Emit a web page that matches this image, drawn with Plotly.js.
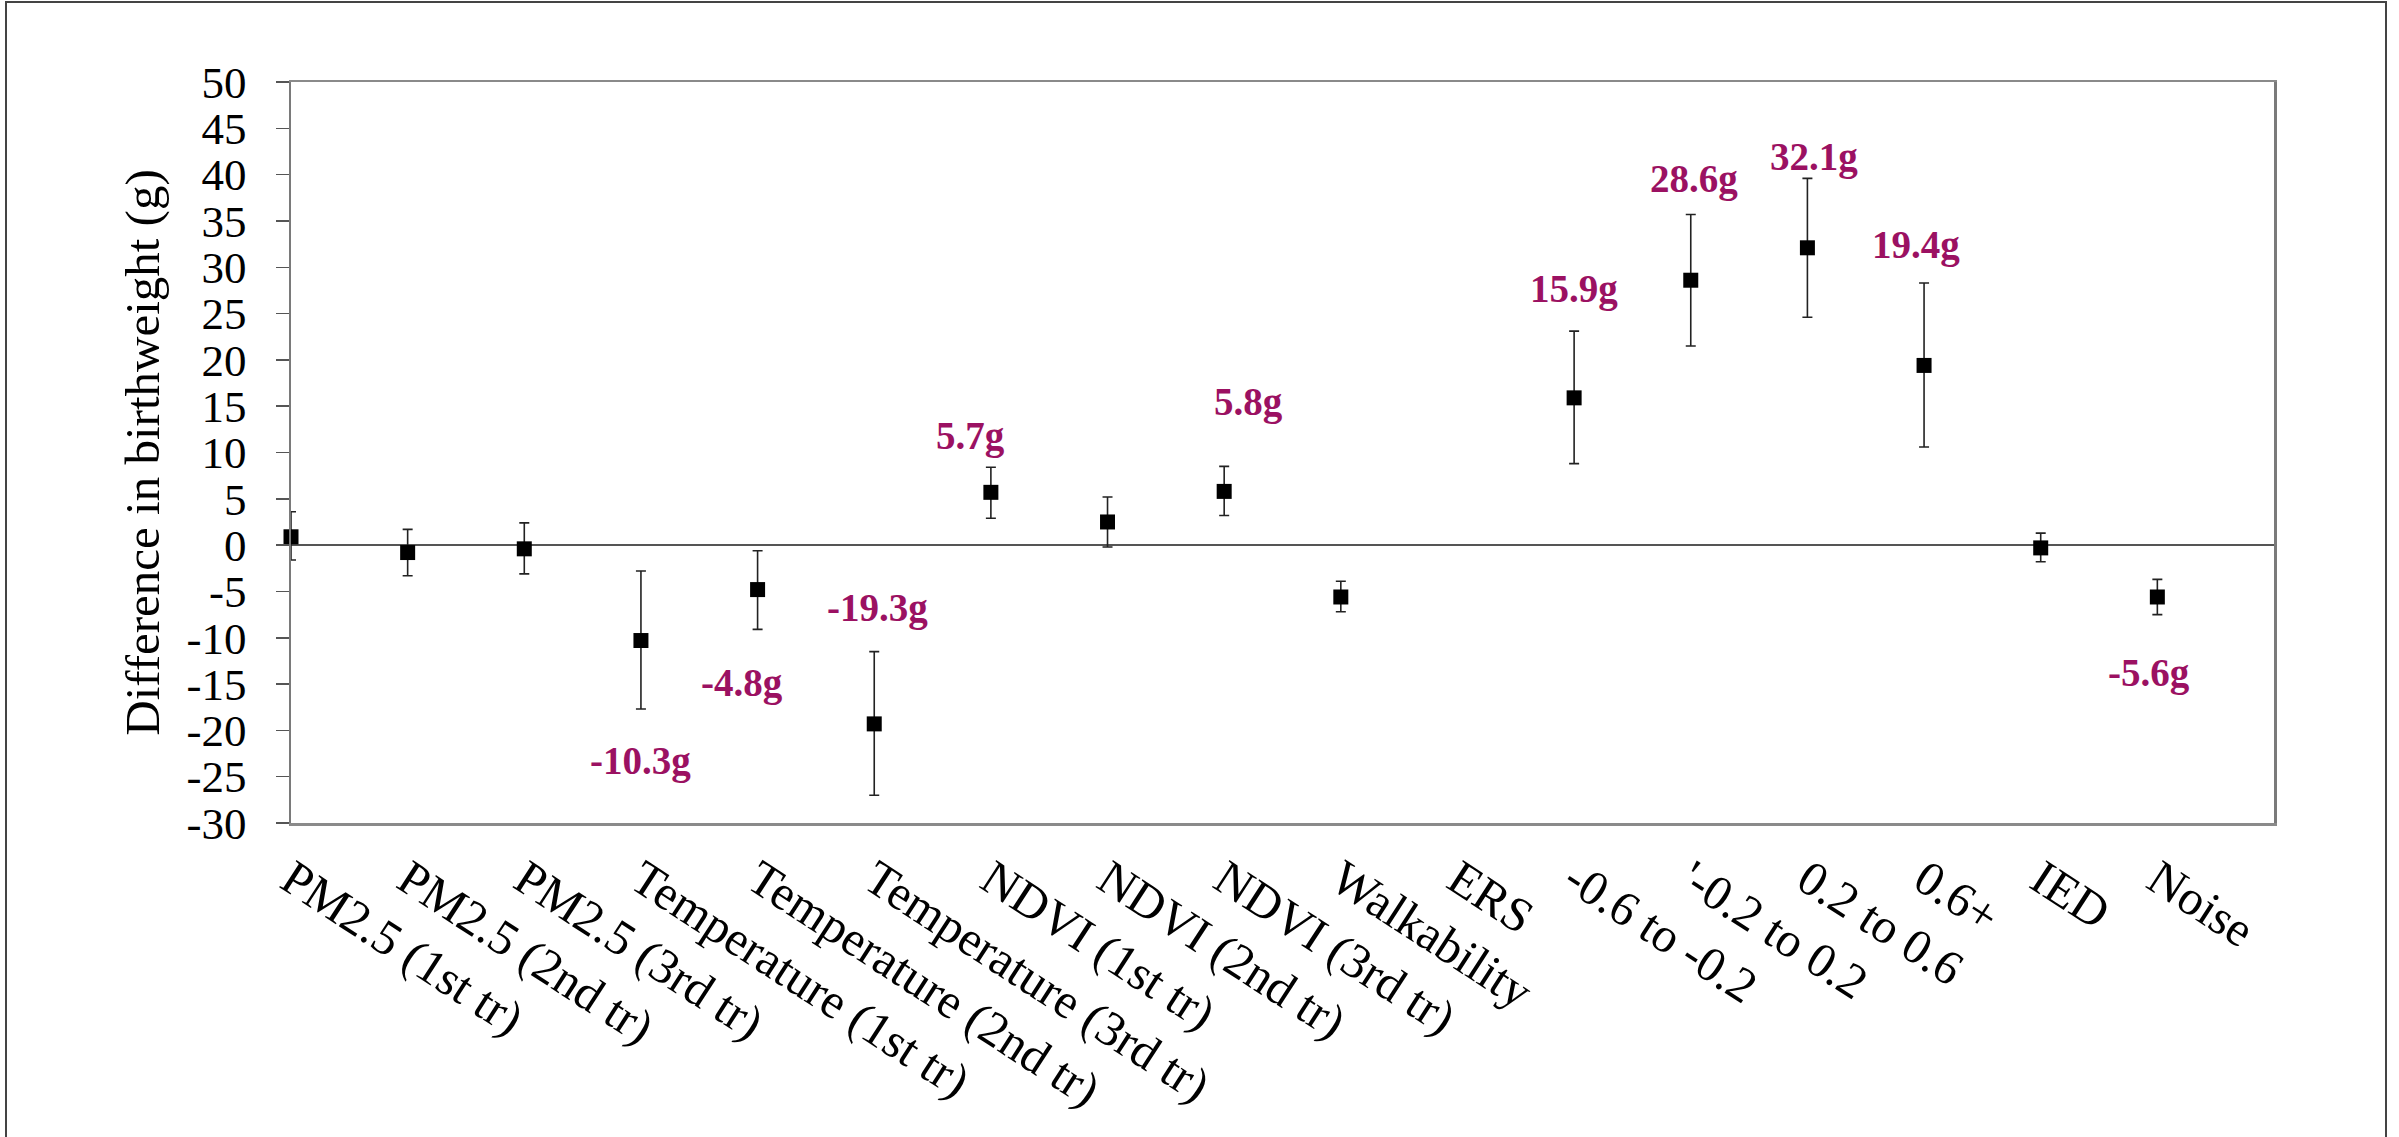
<!DOCTYPE html>
<html>
<head>
<meta charset="utf-8">
<script src="https://cdn.plot.ly/plotly-3.0.1.min.js"></script>
<style>
  html, body { margin: 0; padding: 0; background: #ffffff; overflow: hidden; }
  #chart { width: 2399px; height: 1137px; }
</style>
</head>
<body>
<div id="chart"></div>
<script>
// ---- data ----
const categories = [
  "PM2.5 (1st tr)", "PM2.5 (2nd tr)", "PM2.5 (3rd tr)",
  "Temperature (1st tr)", "Temperature (2nd tr)", "Temperature (3rd tr)",
  "NDVI (1st tr)", "NDVI (2nd tr)", "NDVI (3rd tr)",
  "Walkability", "ERS", "-0.6 to -0.2", "'-0.2 to 0.2", "0.2 to 0.6", "0.6+",
  "IED", "Noise"
];
const estimate = [0.9, -0.8, -0.4, -10.3, -4.8, -19.3, 5.7, 2.5, 5.8, -5.6, null, 15.9, 28.6, 32.1, 19.4, -0.3, -5.6];
const ciLower  = [-1.6, -3.3, -3.1, -17.7, -9.1, -27.0, 2.9, -0.2, 3.2, -7.2, null, 8.8, 21.5, 24.6, 10.6, -1.8, -7.5];
const ciUpper  = [3.6, 1.7, 2.4, -2.8, -0.6, -11.5, 8.4, 5.2, 8.5, -3.9, null, 23.1, 35.7, 39.6, 28.3, 1.3, -3.7];
const labelled = [3, 4, 5, 6, 8, 11, 12, 13, 14, 16];
const yTickVals = [-30, -25, -20, -15, -10, -5, 0, 5, 10, 15, 20, 25, 30, 35, 40, 45, 50];
const yTickText = ["-30", "-25", "-20", "-15", "-10", "-5", "0", "5", "10", "15", "20", "25", "30", "35", "40", "45", "50"];

// ---- derived error bar lengths ----
const errPlus  = estimate.map((v, i) => v === null ? null : ciUpper[i] - v);
const errMinus = estimate.map((v, i) => v === null ? null : v - ciLower[i]);

const serif = '"Liberation Serif", "Times New Roman", serif';
const labelColor = '#9b1162';

// label placement (data-y of the label and horizontal nudge in px)
const labelPlace = {
  3: {y: -23.3, dx: 0},
  4: {y: -14.9, dx: -16},
  5: {y: -6.8, dx: 3},
  6: {y: 11.8, dx: -20},
  8: {y: 15.5, dx: 24},
  11: {y: 27.7, dx: 0},
  12: {y: 39.5, dx: 3},
  13: {y: 41.9, dx: 7},
  14: {y: 32.4, dx: -8},
  16: {y: -13.8, dx: -8}
};

const annotations = labelled.map(i => ({
  x: categories[i],
  y: labelPlace[i].y,
  xref: 'x', yref: 'y',
  xshift: labelPlace[i].dx,
  text: '<b>' + estimate[i].toFixed(1) + 'g</b>',
  showarrow: false,
  xanchor: 'center', yanchor: 'middle',
  font: {family: serif, size: 39, color: labelColor}
}));

const trace = {
  type: 'scatter',
  mode: 'markers',
  x: categories,
  y: estimate,
  cliponaxis: false,
  marker: {symbol: 'square', size: 15, color: '#000000'},
  error_y: {
    type: 'data',
    symmetric: false,
    array: errPlus,
    arrayminus: errMinus,
    color: '#222222',
    thickness: 1.6,
    width: 5
  },
  hoverinfo: 'x+y',
  showlegend: false
};

const W = 2399, H = 1137;
const mL = 291, mR = 125, mT = 82, mB = 314;
const pw = W - mL - mR, ph = H - mT - mB;

const layout = {
  width: W, height: H,
  margin: {l: mL, r: mR, t: mT, b: mB, pad: 0},
  paper_bgcolor: '#ffffff',
  plot_bgcolor: '#ffffff',
  font: {family: serif, color: '#000000'},
  showlegend: false,
  xaxis: {
    type: 'category',
    range: [0, 17],
    showgrid: false,
    zeroline: false,
    showline: true,
    mirror: true,
    linecolor: '#8a8a8a',
    linewidth: 2.5,
    ticks: '',
    tickangle: 33,
    tickfont: {family: serif, size: 49, color: '#000000'},
    ticklabelstandoff: 6,
    automargin: false
  },
  yaxis: {
    range: [-30, 50],
    tickmode: 'array',
    tickvals: yTickVals,
    ticktext: yTickText,
    showgrid: false,
    zeroline: true,
    zerolinecolor: '#555555',
    zerolinewidth: 1.5,
    showline: true,
    mirror: true,
    linecolor: '#7a7a7a',
    linewidth: 2.5,
    ticks: 'outside',
    ticklen: 13,
    tickwidth: 1.5,
    tickcolor: '#555555',
    tickfont: {family: serif, size: 45, color: '#000000'},
    ticklabelstandoff: 20,
    title: {text: 'Difference in birthweight (g)', font: {family: serif, size: 49, color: '#000000'}, standoff: 12},
    automargin: false
  },
  annotations: annotations,
  shapes: [{
    type: 'rect', xref: 'paper', yref: 'paper', layer: 'above',
    x0: (6 - mL) / pw, x1: (2386 - mL) / pw,
    y0: (H - mB - 1150) / ph, y1: (H - mB - 2) / ph,
    line: {color: '#444444', width: 2},
    fillcolor: 'rgba(0,0,0,0)'
  }]
};

Plotly.newPlot('chart', [trace], layout, {displayModeBar: false, staticPlot: true});
</script>
</body>
</html>
